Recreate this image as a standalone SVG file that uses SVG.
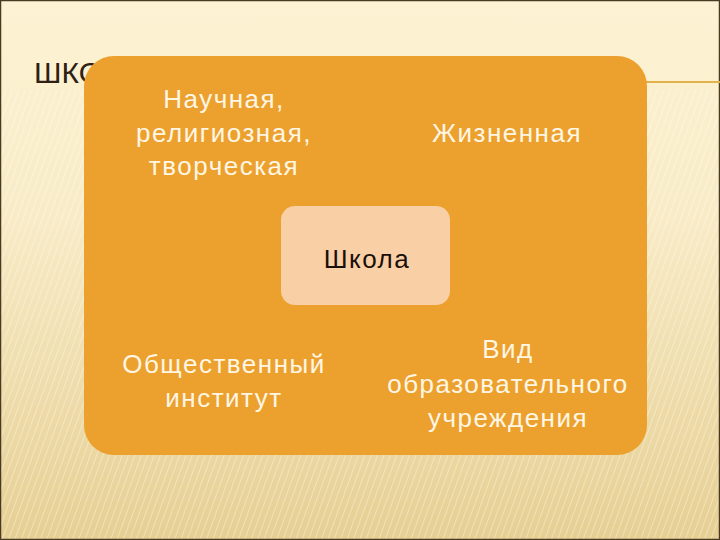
<svg xmlns="http://www.w3.org/2000/svg" width="720" height="540" viewBox="0 0 720 540">
<defs>
<linearGradient id="bg" x1="0" y1="0" x2="0" y2="1">
<stop offset="0" stop-color="#fdf3d4"/>
<stop offset="0.4" stop-color="#f8ebc6"/>
<stop offset="1" stop-color="#e6cf93"/>
</linearGradient>
<pattern id="stripes" width="6" height="6" patternUnits="userSpaceOnUse" patternTransform="rotate(20)">
<line x1="0" y1="0" x2="0" y2="6" stroke="#ffffff" stroke-opacity="0.35" stroke-width="2"/>
</pattern>
<style>
.t{font-family:"Liberation Sans","DejaVu Sans",sans-serif;font-size:26px;letter-spacing:1.5px;fill:#fff6e4;text-anchor:middle}
.c{font-family:"Liberation Sans","DejaVu Sans",sans-serif;font-size:26px;letter-spacing:1.5px;fill:#1a1008;text-anchor:middle}
</style>
</defs>
<rect width="720" height="540" fill="url(#bg)"/>
<rect y="90" width="720" height="450" fill="url(#stripes)"/>
<rect x="0.5" y="0.5" width="719" height="539" fill="none" stroke="#4a3a20" stroke-width="1.5"/>
<line x1="600" y1="82" x2="720" y2="82" stroke="#e2b34a" stroke-width="2"/>
<text x="34" y="83" font-family="Liberation Sans, DejaVu Sans, sans-serif" font-size="30" fill="#2e2014">ШКОЛА</text>
<g id="main">
<rect x="84" y="56" width="563" height="399" rx="30" fill="#eca12e"/>
</g>
<g id="n1">
<text class="t" x="224" y="108">Научная,</text>
<text class="t" x="224" y="142">религиозная,</text>
<text class="t" x="224" y="175">творческая</text>
</g>
<g id="n2">
<text class="t" x="507" y="142">Жизненная</text>
</g>
<g id="center">
<rect x="281" y="206" width="169" height="99" rx="14" fill="#f9cfa6"/>
<text class="c" x="367" y="268">Школа</text>
</g>
<g id="n3">
<text class="t" x="224" y="373">Общественный</text>
<text class="t" x="224" y="407">институт</text>
</g>
<g id="n4">
<text class="t" x="508" y="358">Вид</text>
<text class="t" x="508" y="393">образовательного</text>
<text class="t" x="508" y="427">учреждения</text>
</g>
<g id="connectors"/>
</svg>
